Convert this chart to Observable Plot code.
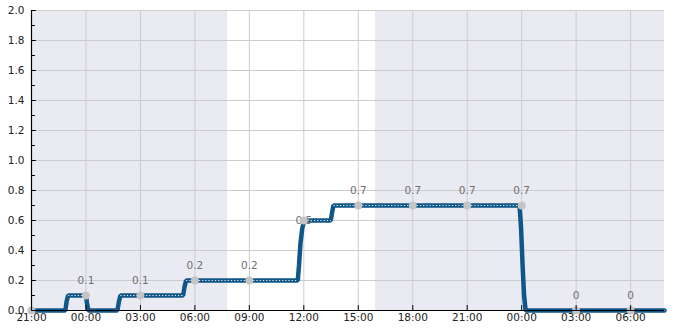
<!DOCTYPE html>
<html><head><meta charset="utf-8">
<script src="https://cdn.jsdelivr.net/npm/d3@7"></script>
<script src="https://cdn.jsdelivr.net/npm/@observablehq/plot@0.6"></script>
<style>body{margin:0;background:#fff;} svg{display:block;}</style>
</head><body><div id="chart"></div>
<script>
// Step series (UTC times)
const lineTimes = [
  "2023-12-10T21:00Z","2023-12-10T22:52Z","2023-12-10T22:56Z","2023-12-10T23:01Z",
  "2023-12-11T00:00Z","2023-12-11T00:04Z","2023-12-11T00:08Z",
  "2023-12-11T01:44Z","2023-12-11T01:49Z","2023-12-11T01:54Z",
  "2023-12-11T05:21Z","2023-12-11T05:26Z","2023-12-11T05:31Z",
  "2023-12-11T11:40Z","2023-12-11T11:44Z","2023-12-11T11:49Z","2023-12-11T11:55Z","2023-12-11T12:02Z",
  "2023-12-11T13:29Z","2023-12-11T13:34Z","2023-12-11T13:38Z",
  "2023-12-11T23:53Z","2023-12-11T23:58Z","2023-12-12T00:03Z","2023-12-12T00:08Z","2023-12-12T00:13Z",
  "2023-12-12T07:52Z"
];
const lineValues = [
  0, 0, 0.06, 0.1,
  0.1, 0.04, 0,
  0, 0.06, 0.1,
  0.1, 0.16, 0.2,
  0.2, 0.3, 0.45, 0.55, 0.6,
  0.6, 0.66, 0.7,
  0.7, 0.55, 0.3, 0.1, 0,
  0
];
// Markers every 3 hours
const markerTimes = [
  "2023-12-10T21:00Z","2023-12-11T00:00Z","2023-12-11T03:00Z","2023-12-11T06:00Z",
  "2023-12-11T09:00Z","2023-12-11T12:00Z","2023-12-11T15:00Z","2023-12-11T18:00Z",
  "2023-12-11T21:00Z","2023-12-12T00:00Z","2023-12-12T03:00Z","2023-12-12T06:00Z"
];
const markerValues = [0, 0.1, 0.1, 0.2, 0.2, 0.6, 0.7, 0.7, 0.7, 0.7, 0, 0];
const labelValues  = [null, 0.1, 0.1, 0.2, 0.2, 0.5, 0.7, 0.7, 0.7, 0.7, 0, 0];
// Night shading
const nightStarts = ["2023-12-10T21:00Z", "2023-12-11T15:57Z"];
const nightEnds   = ["2023-12-11T07:48Z", "2023-12-12T07:52Z"];
// Axis ticks
const xDomain = ["2023-12-10T21:00Z", "2023-12-12T07:52Z"];
const xTicks = markerTimes;
const yTicks = [0, 0.2, 0.4, 0.6, 0.8, 1.0, 1.2, 1.4, 1.6, 1.8, 2.0];
const yMinorTicks = [0.1, 0.3, 0.5, 0.7, 0.9, 1.1, 1.3, 1.5, 1.7, 1.9];

const P = s => new Date(s);
const series = lineTimes.map((t, i) => ({t: P(t), v: lineValues[i]}));
const flatPairs = [];
for (let i = 1; i < series.length; i++) {
  if (series[i].v === series[i-1].v) flatPairs.push({a: series[i-1], b: series[i]});
}
const markers = markerTimes.map((t, i) => ({t: P(t), v: markerValues[i], lv: labelValues[i]}));
const labels = markers.filter(d => d.lv != null);
const nights = nightStarts.map((s, i) => ({s: P(s), e: P(nightEnds[i])}));
const xTickDates = xTicks.map(P);

const tickShape = {draw(ctx, l) { ctx.moveTo(0, 0); ctx.lineTo(0, -l); }};

const chart = Plot.plot({
  width: 685, height: 330,
  marginLeft: 31, marginRight: 21, marginTop: 10, marginBottom: 20,
  style: {fontFamily: "DejaVu Sans", fontSize: "10px", background: "#fff"},
  x: {type: "utc", domain: xDomain.map(P)},
  y: {domain: [0, 2]},
  marks: [
    Plot.rect(nights, {x1: "s", x2: "e", fill: "#eaeaf2"}),
    Plot.gridX(xTickDates, {stroke: "#cccccc", strokeOpacity: 1, strokeWidth: 1}),
    Plot.gridY(yTicks, {stroke: "#cccccc", strokeOpacity: 1, strokeWidth: 1}),
    Plot.line(series, {x: "t", y: "v", stroke: "#0f5788", strokeWidth: 4.5, strokeLinejoin: "miter"}),
    Plot.link(flatPairs, {x1: d => d.a.t, y1: d => d.a.v, x2: d => d.b.t, y2: d => d.b.v,
      stroke: "#e8eef4", strokeWidth: 1.2, strokeDasharray: "1.2,2"}),
    Plot.text(labels, {x: "t", y: "lv", text: d => String(d.lv), dy: -15, fill: "#707070", fontSize: 10.5}),
    Plot.dot(markers, {x: "t", y: "v", r: 4, fill: "#c4c4c4", stroke: null}),
    Plot.ruleX([P(xDomain[0])], {stroke: "#000", strokeWidth: 1.2}),
    Plot.ruleY([0], {stroke: "#000", strokeWidth: 1.2}),
    Plot.vector(xTickDates, {x: d => d, frameAnchor: "bottom", length: 5, rotate: 0, anchor: "start", shape: tickShape, stroke: "#000", strokeWidth: 1}),
    Plot.vector(yTicks, {y: d => d, frameAnchor: "left", length: 4, rotate: 90, anchor: "start", shape: tickShape, stroke: "#000", strokeWidth: 1}),
    Plot.vector(yMinorTicks, {y: d => d, frameAnchor: "left", length: 3, rotate: 90, anchor: "start", shape: tickShape, stroke: "#000", strokeWidth: 1}),
    Plot.axisX(xTickDates, {tickSize: 0, tickPadding: 3, tickFormat: d3.utcFormat("%H:%M"), fontSize: 10.5, fill: "#222", label: null}),
    Plot.axisY(yTicks, {tickSize: 0, tickPadding: 7, tickFormat: d3.format(".1f"), fontSize: 10.5, fill: "#222", label: null})
  ]
});
document.getElementById("chart").append(chart);
</script>
</body></html>
